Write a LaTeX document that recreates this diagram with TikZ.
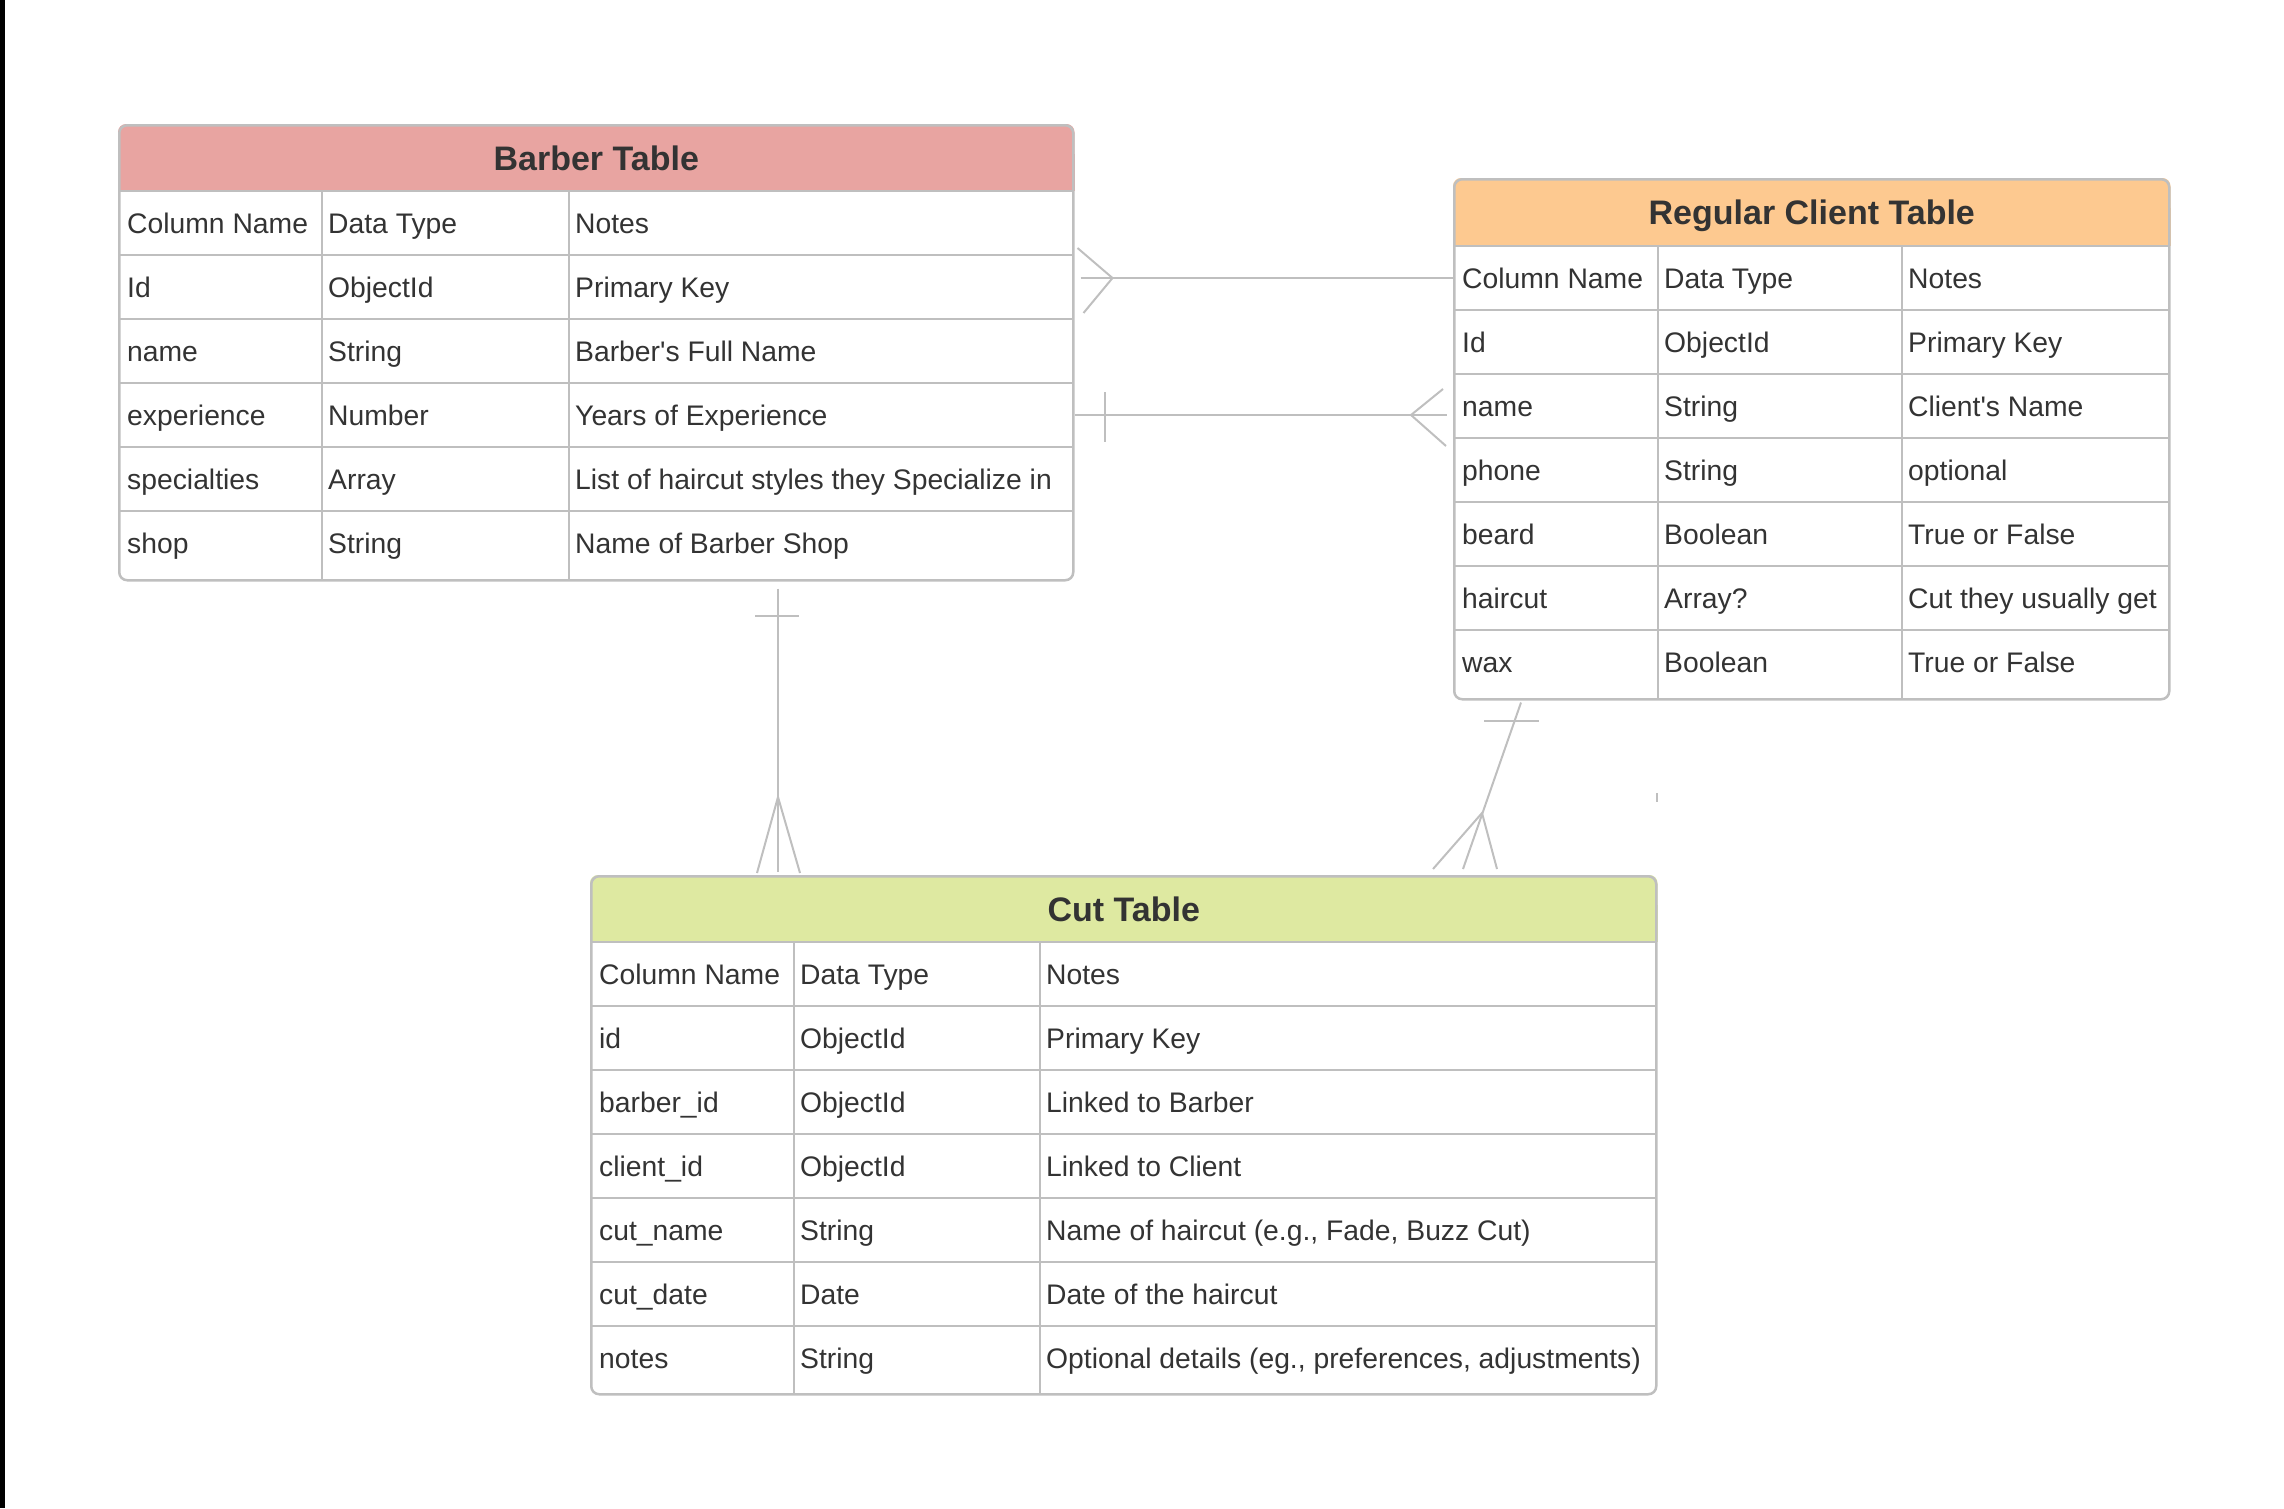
\documentclass[tikz,border=0pt]{standalone}
\usepackage{fontspec}
\setmainfont{Liberation Sans}
\usetikzlibrary{calc, backgrounds}
\definecolor{edge}{HTML}{BFBFBF}
\definecolor{ink}{HTML}{333333}
\definecolor{hbarber}{HTML}{E8A4A1}
\definecolor{hclient}{HTML}{FDC990}
\definecolor{hcut}{HTML}{DEE9A1}
\tikzset{
  tbl/.style={draw=edge, line width=2.5pt, rounded corners=8pt, inner sep=0pt, anchor=north west},
  hd/.style={font=\fontsize{34}{40}\selectfont\bfseries, text=ink, anchor=base, inner sep=0pt},
  txt/.style={font=\fontsize{28.3}{34}\selectfont, text=ink, anchor=base west, inner sep=0pt},
  gline/.style={draw=edge, line width=2pt},
  link/.style={draw=edge, line width=2pt},
}

\begin{document}
\begin{tikzpicture}[x=1pt, y=-1pt]
\useasboundingbox (0,0) rectangle (2284,1508);
\fill[black] (0,0) rectangle (5,1508);

% Barber Table
\node[tbl, minimum width=954pt, minimum height=455pt] (barber) at (118,124) {};
\begin{scope}[on background layer]
\fill[hbarber, rounded corners=8pt] (barber.north west) rectangle ($(barber.north east)+(0,67)$);
\fill[hbarber] ($(barber.north west)+(0,30)$) rectangle ($(barber.north east)+(0,67)$);
\end{scope}
\node[hd] (barber-t) at ($(barber.north)+(0,46)$) {Barber Table};
\foreach [count=\i from 0] \nm/\ty/\nt in {Column Name/Data Type/Notes, Id/ObjectId/Primary Key,
    name/String/Barber\textquotesingle s Full Name, experience/Number/Years of Experience,
    specialties/Array/List of haircut styles they Specialize in, shop/String/Name of Barber Shop} {
  \coordinate (barber-\i) at (118,{223+64*\i});
  \node[txt] (barber-\i-a) at (127,{233+64*\i}) {\nm};
  \node[txt] (barber-\i-b) at (328,{233+64*\i}) {\ty};
  \node[txt] (barber-\i-c) at (575,{233+64*\i}) {\nt};
}
\foreach \i in {0,...,5}
  \draw[gline] (118,{191+64*\i}) -- (1072,{191+64*\i});
\draw[gline] (322,191) -- (322,579) (569,191) -- (569,579);

% Regular Client Table
\node[tbl, minimum width=715pt, minimum height=520pt] (client) at (1453,178) {};
\begin{scope}[on background layer]
\fill[hclient, rounded corners=8pt] (client.north west) rectangle ($(client.north east)+(0,68)$);
\fill[hclient] ($(client.north west)+(0,30)$) rectangle ($(client.north east)+(0,68)$);
\end{scope}
\node[hd] (client-t) at ($(client.north)+(0,46)$) {Regular Client Table};
\foreach [count=\i from 0] \nm/\ty/\nt in {Column Name/Data Type/Notes, Id/ObjectId/Primary Key,
    name/String/Client\textquotesingle s Name, phone/String/optional, beard/Boolean/True or False,
    haircut/Array?/Cut they usually get, wax/Boolean/True or False} {
  \coordinate (client-\i) at (1453,{278+64*\i});
  \node[txt] (client-\i-a) at (1462,{288+64*\i}) {\nm};
  \node[txt] (client-\i-b) at (1664,{288+64*\i}) {\ty};
  \node[txt] (client-\i-c) at (1908,{288+64*\i}) {\nt};
}
\foreach \i in {0,...,6}
  \draw[gline] (1453,{246+64*\i}) -- (2168,{246+64*\i});
\draw[gline] (1658,246) -- (1658,698) (1902,246) -- (1902,698);

% Cut Table
\node[tbl, minimum width=1065pt, minimum height=518pt] (cut) at (590,875) {};
\begin{scope}[on background layer]
\fill[hcut, rounded corners=8pt] (cut.north west) rectangle ($(cut.north east)+(0,67)$);
\fill[hcut] ($(cut.north west)+(0,30)$) rectangle ($(cut.north east)+(0,67)$);
\end{scope}
\node[hd] (cut-t) at ($(cut.north)+(0,46)$) {Cut Table};
\foreach [count=\i from 0] \nm/\ty/\nt in {Column Name/Data Type/Notes, id/ObjectId/Primary Key,
    barber\_id/ObjectId/Linked to Barber, client\_id/ObjectId/Linked to Client,
    {cut\_name/String/Name of haircut (e.g., Fade, Buzz Cut)}, cut\_date/Date/Date of the haircut,
    {notes/String/Optional details (eg., preferences, adjustments)}} {
  \coordinate (cut-\i) at (590,{974+64*\i});
  \node[txt] (cut-\i-a) at (599,{984+64*\i}) {\nm};
  \node[txt] (cut-\i-b) at (800,{984+64*\i}) {\ty};
  \node[txt] (cut-\i-c) at (1046,{984+64*\i}) {\nt};
}
\foreach \i in {0,...,6}
  \draw[gline] (590,{942+64*\i}) -- (1655,{942+64*\i});
\draw[gline] (794,942) -- (794,1393) (1040,942) -- (1040,1393);

% barber -- client, crow's foot at barber
\coordinate (r1) at (barber.east |- client-0);
\draw[link] ($(r1)+(6,0)$) -- (client.west |- r1);
\draw[link] ($(r1)+(3,-30)$) -- ($(r1)+(38,0)$) -- ($(r1)+(9,35)$);

% barber -- client, crow's foot at client
\coordinate (r2) at (barber.east |- barber-3);
\coordinate (r2e) at (client.west |- barber-3);
\draw[link] (r2) -- ($(r2e)+(-6,0)$);
\draw[link] ($(r2)+(30,-23)$) -- ($(r2)+(30,27)$);
\draw[link] ($(r2e)+(-10,-26)$) -- ($(r2e)+(-42,0)$) -- ($(r2e)+(-7,31)$);

% barber -- cut
\coordinate (r3) at ($(barber.south west)+(660,0)$);
\coordinate (r3e) at (cut.north -| r3);
\draw[link] ($(r3)+(0,7)$) -- ($(r3e)+(0,-3)$);
\draw[link] ($(r3)+(-23,34)$) -- ($(r3)+(21,34)$);
\draw[link] ($(r3e)+(-21,-2)$) -- ($(r3e)+(0,-78)$) -- ($(r3e)+(22,-2)$);

% client -- cut
\coordinate (r4) at ($(client.south west)+(68,0)$);
\coordinate (r4e) at ($(cut.north west)+(873,0)$);
\draw[link] ($(r4)+(0,2)$) -- ($(r4e)+(0,-6)$);
\draw[link] ($(r4)+(-37,20)$) -- ($(r4)+(18,20)$);
\draw[link] ($(r4e)+(-30,-6)$) -- ($(r4e)+(19,-62)$) -- ($(r4e)+(34,-6)$);

\draw[link] ($(cut.north east)+(-1,-82)$) -- ++(0,9);
\end{tikzpicture}
\end{document}
